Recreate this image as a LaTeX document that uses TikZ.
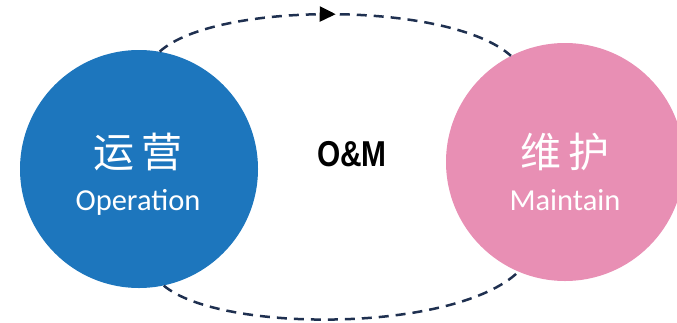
\documentclass[tikz,border=0pt]{standalone}
\usepackage{fontspec}
\newfontfamily\cjkfont{Noto Sans CJK SC}
\newfontfamily\carlitofont{Carlito}
\newfontfamily\condfont[FakeStretch=0.83]{Liberation Sans}
\usetikzlibrary{arrows.meta,decorations.markings}
\definecolor{opblue}{RGB}{29,118,189}
\definecolor{mpink}{RGB}{232,143,180}
\definecolor{navy}{RGB}{31,48,80}
\tikzset{
  bigcircle/.style={circle,minimum size=238pt,inner sep=0pt,draw=none},
  cjklabel/.style={text=white,font=\cjkfont\fontsize{41}{41}\selectfont,inner sep=0pt},
  enlabel/.style={text=white,font=\carlitofont\fontsize{30.5}{30}\selectfont,inner sep=0pt,anchor=base},
  cycleline/.style={draw=navy,line width=2.5pt,dash pattern=on 10pt off 7pt},
  midarrow/.style={postaction={decorate,decoration={markings,
     mark=at position 0.5 with {\arrow[black]{Triangle[length=16pt,width=15pt]}}}}}
}
\begin{document}
\begin{tikzpicture}[x=1pt,y=-1pt]
\clip (0,0) rectangle (677,322);
\useasboundingbox (0,0) rectangle (677,322);
\node[bigcircle,fill=opblue] (op) at (139,169) {};
\node[bigcircle,fill=mpink] (mt) at (565,162) {};
\node[cjklabel] (opcn) at (138,152) {运\hspace{7pt}营};
\node[enlabel] (open) at (138,210) {Operation};
\node[cjklabel] (mtcn) at (565,152) {维\hspace{7pt}护};
\node[enlabel] (mten) at (565,210) {Maintain};
\node[font=\condfont\bfseries\fontsize{36}{36}\selectfont,inner sep=0pt,anchor=base] (om) at (352,166) {O\&M};
\draw[cycleline,midarrow] (op.80) .. controls (215,1) and (450,1) .. (mt.117);
\draw[cycleline] (op.-78) .. controls (220,333) and (455,333) .. (mt.-113);
\end{tikzpicture}
\end{document}
